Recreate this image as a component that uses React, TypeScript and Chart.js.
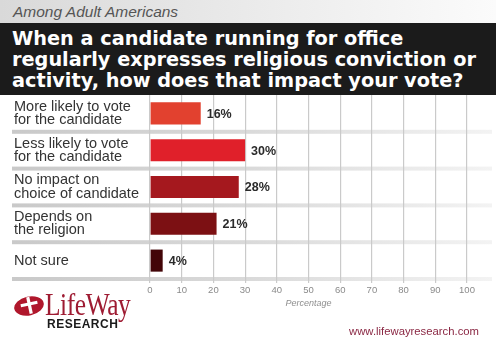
import React, { useEffect, useRef } from "react";
import { Chart, registerables } from "chart.js";

Chart.register(...registerables);

const subtitle = "Among Adult Americans";
const titleLines = [
  "When a candidate running for office",
  "regularly expresses religious conviction or",
  "activity, how does that impact your vote?",
];
const categories: string[][] = [
  ["More likely to vote", "for the candidate"],
  ["Less likely to vote", "for the candidate"],
  ["No impact on", "choice of candidate"],
  ["Depends on", "the religion"],
  ["Not sure"],
];
const values = [16, 30, 28, 21, 4];
const barColors = ["#e2412f", "#e0202a", "#a5181e", "#7c1013", "#430508"];
const axisTitle = "Percentage";
const xMin = 0;
const xMax = 100;
const xStep = 10;
const url = "www.lifewayresearch.com";

const stripesPlugin = {
  id: "stripes",
  beforeDraw(chart: any) {
    const { ctx, chartArea } = chart;
    const y = chart.scales.y;
    const n = categories.length;
    const h = (chartArea.bottom - chartArea.top) / n;
    const grad = ctx.createLinearGradient(12, 0, 492, 0);
    grad.addColorStop(0, "#c9c9c9");
    grad.addColorStop(0.5, "#dadada");
    grad.addColorStop(1, "#f3f3f3");
    ctx.save();
    ctx.fillStyle = grad;
    for (let i = 0; i < n; i++) {
      const cy = y.getPixelForValue(i) + h / 2;
      ctx.fillRect(12, cy - 2, 480, 4);
    }
    ctx.restore();
  },
};

const valueLabelPlugin = {
  id: "valueLabels",
  afterDatasetsDraw(chart: any) {
    const { ctx } = chart;
    const meta = chart.getDatasetMeta(0);
    ctx.save();
    ctx.font = 'bold 12.5px "Liberation Sans", Arial, sans-serif';
    ctx.fillStyle = "#2b2b2b";
    ctx.textAlign = "left";
    ctx.textBaseline = "middle";
    meta.data.forEach((bar: any, i: number) => {
      ctx.fillText(values[i] + "%", bar.x + 6, bar.y + 1);
    });
    ctx.restore();
  },
};

function LifeWayLogo() {
  return (
    <div style={{ position: "absolute", left: 13, top: 290, width: 130, height: 45 }}>
      <svg width="34" height="26" viewBox="0 0 34 26" style={{ position: "absolute", left: 0, top: 4 }}>
        <ellipse cx="16" cy="12" rx="15" ry="9.5" transform="rotate(-12 16 12)" fill="#b0172c" />
        <rect x="15" y="3" width="3.2" height="17" fill="#ffffff" transform="rotate(-12 16 12)" />
        <rect x="8" y="8.5" width="17" height="3" fill="#ffffff" transform="rotate(-12 16 12)" />
      </svg>
      <div
        style={{
          position: "absolute",
          left: 32,
          top: -3,
          fontFamily: '"Liberation Serif", "Times New Roman", serif',
          fontSize: 31,
          color: "#9e1b32",
          transform: "scaleX(0.82)",
          transformOrigin: "left top",
          whiteSpace: "nowrap",
          letterSpacing: -0.5,
        }}
      >
        LifeWay
      </div>
      <div
        style={{
          position: "absolute",
          left: 34,
          top: 27,
          fontFamily: '"Liberation Sans", Arial, sans-serif',
          fontWeight: "bold",
          fontSize: 12,
          letterSpacing: 0.5,
          color: "#1a1a1a",
          whiteSpace: "nowrap",
        }}
      >
        RESEARCH
      </div>
    </div>
  );
}

export default function App() {
  const canvasRef = useRef<HTMLCanvasElement | null>(null);

  useEffect(() => {
    if (!canvasRef.current) return;
    const chart = new Chart(canvasRef.current, {
      type: "bar",
      data: {
        labels: categories,
        datasets: [
          {
            data: values,
            backgroundColor: barColors,
            borderWidth: 0,
            barPercentage: 0.6,
            categoryPercentage: 1,
          },
        ],
      },
      options: {
        indexAxis: "y",
        responsive: false,
        animation: false,
        layout: { padding: { left: 14, right: 29, top: 95, bottom: 0 } },
        plugins: {
          legend: { display: false },
          tooltip: { enabled: false },
          title: { display: false },
        },
        scales: {
          x: {
            min: xMin,
            max: xMax,
            ticks: {
              stepSize: xStep,
              color: "#8a8a8a",
              font: { family: '"Liberation Sans", Arial, sans-serif', size: 9.5 },
              padding: 2,
            },
            grid: {
              color: "#cacaca",
              lineWidth: 1.2,
              tickLength: 4,
              drawTicks: true,
            },
            border: { display: false },
            title: {
              display: true,
              text: axisTitle,
              color: "#8f8f8f",
              font: { family: '"Liberation Sans", Arial, sans-serif', size: 9, style: "italic" },
              padding: { top: 0, bottom: 30 },
            },
            afterFit(scale: any) {
              scale.height = 60;
            },
          },
          y: {
            grid: { display: false },
            border: { display: false },
            ticks: {
              crossAlign: "far",
              color: "#333333",
              padding: 0,
              font: { family: '"Liberation Sans", Arial, sans-serif', size: 14.5, lineHeight: 0.9 },
            },
            afterFit(scale: any) {
              scale.width = 136;
            },
          },
        },
      },
      plugins: [stripesPlugin, valueLabelPlugin],
    } as any);
    return () => chart.destroy();
  }, []);

  return (
    <div style={{ position: "absolute", left: 0, top: 0, width: 496, height: 339, background: "#ffffff", overflow: "hidden" }}>
      <canvas ref={canvasRef} width={496} height={339} style={{ display: "block", position: "absolute", left: 0, top: 0 }} />
      <div
        style={{
          position: "absolute",
          left: 0,
          top: 0,
          width: 496,
          height: 23,
          background: "linear-gradient(to right, #d9d9d9, #ececec 55%, #fbfbfb)",
        }}
      >
        <div
          style={{
            position: "absolute",
            left: 13,
            top: 3,
            fontFamily: '"Liberation Sans", Arial, sans-serif',
            fontStyle: "italic",
            fontSize: 15.5,
            color: "#555555",
            whiteSpace: "nowrap",
            lineHeight: "18px",
          }}
        >
          {subtitle}
        </div>
      </div>
      <div
        style={{
          position: "absolute",
          left: 0,
          top: 23,
          width: 496,
          height: 72,
          background: "#1b1b1b",
        }}
      >
        <div
          style={{
            position: "absolute",
            left: 12,
            top: 4.5,
            fontFamily: '"DejaVu Sans", Verdana, sans-serif',
            fontWeight: "bold",
            fontSize: 19.3,
            lineHeight: "21px",
            color: "#ffffff",
            whiteSpace: "nowrap",
          }}
        >
          {titleLines.map((t, i) => (
            <div key={i}>{t}</div>
          ))}
        </div>
      </div>
      <LifeWayLogo />
      <div
        style={{
          position: "absolute",
          right: 17,
          top: 324,
          fontFamily: '"Liberation Sans", Arial, sans-serif',
          fontSize: 11.3,
          color: "#8a2743",
          whiteSpace: "nowrap",
          lineHeight: "14px",
        }}
      >
        {url}
      </div>
    </div>
  );
}
